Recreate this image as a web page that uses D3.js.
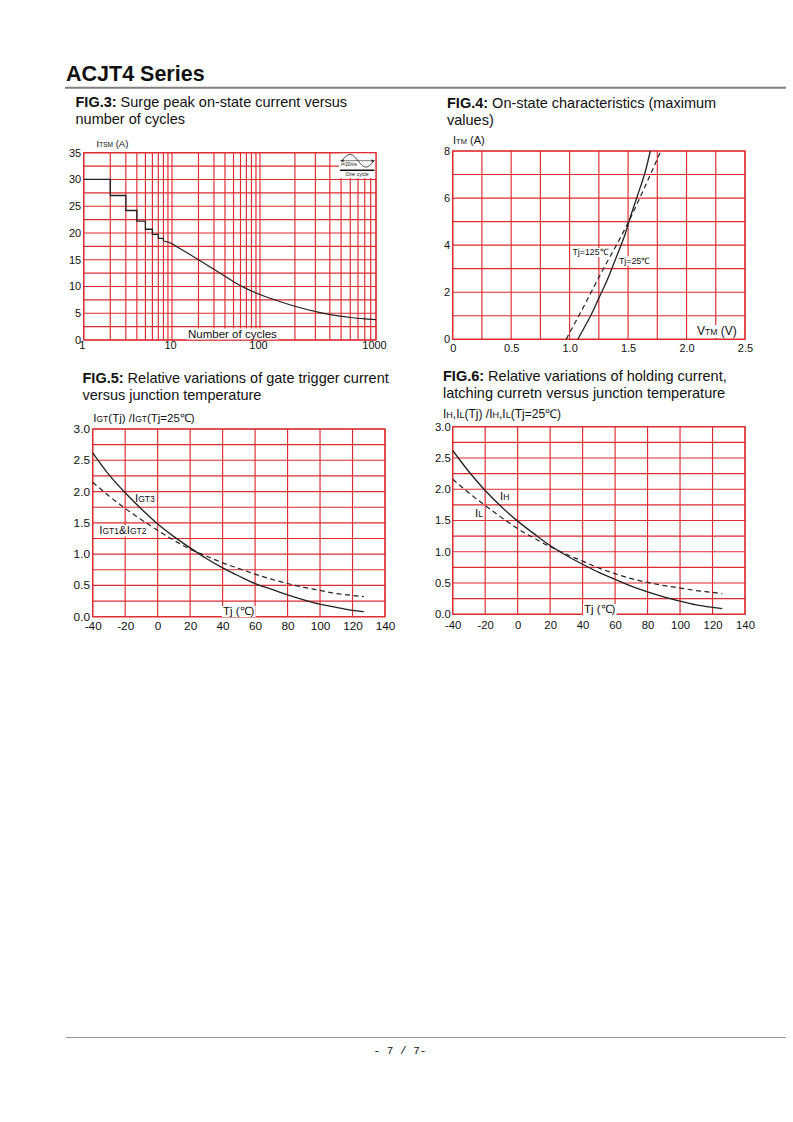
<!DOCTYPE html>
<html><head><meta charset="utf-8">
<script src="https://cdn.jsdelivr.net/npm/d3@7"></script>
<style>
body{margin:0;background:#fff}
svg{display:block}
text{fill:#111}
</style>
</head><body>
<svg id="c" width="793" height="1122" font-family='"Liberation Sans", Arial, Helvetica, sans-serif'></svg>
<script>
// ---------- FIG.3 : surge peak current vs number of cycles ----------
const surgeStepCycles = [1, 2, 3, 4, 5, 6, 7, 8];
const surgeStepValues = [30, 27, 24.2, 22.2, 20.7, 19.75, 19.0, 18.5];
const surgeCurveCycles = [8, 10, 12, 20, 35, 50, 70, 100, 150, 200, 330, 470, 600, 800, 1000];
const surgeCurveValues = [18.5, 18.0, 17.2, 15.0, 12.5, 10.9, 9.6, 8.5, 7.15, 6.3, 5.1, 4.5, 4.2, 3.95, 3.8];
const surgeXTicks = [1, 10, 100, 1000];
const surgeYTicks = [0, 5, 10, 15, 20, 25, 30, 35];

// ---------- FIG.4 : on-state characteristics ----------
const vtm25 = [1.07, 1.12, 1.18, 1.25, 1.32, 1.40, 1.47, 1.52, 1.58, 1.64, 1.69];
const itm25 = [0, 0.45, 1.0, 1.75, 2.5, 3.5, 4.4, 5.2, 6.1, 7.0, 8.0];
const vtm125 = [0.97, 1.1, 1.2, 1.3, 1.4, 1.5, 1.6, 1.7, 1.78];
const itm125 = [0, 1.2, 2.15, 3.1, 4.0, 4.95, 6.0, 7.1, 8.0];
const onXTicks = [0, 0.5, 1.0, 1.5, 2.0, 2.5];
const onYTicks = [0, 2, 4, 6, 8];

// ---------- FIG.5 : gate trigger current vs Tj ----------
const tempsFig5 = [-40, -30, -20, -10, 0, 10, 20, 30, 40, 50, 60, 70, 80, 90, 100, 110, 120, 127];
const igt3 = [2.62, 2.27, 1.98, 1.72, 1.48, 1.28, 1.10, 0.93, 0.78, 0.65, 0.53, 0.44, 0.35, 0.27, 0.20, 0.15, 0.10, 0.08];
const igt12 = [2.15, 1.93, 1.73, 1.55, 1.38, 1.22, 1.08, 0.97, 0.86, 0.77, 0.68, 0.60, 0.53, 0.47, 0.42, 0.37, 0.34, 0.32];

// ---------- FIG.6 : holding / latching current vs Tj ----------
const tempsFig6 = [-40, -30, -20, -10, 0, 10, 20, 30, 40, 50, 60, 70, 80, 90, 100, 110, 120, 126];
const ihRel = [2.62, 2.28, 1.98, 1.72, 1.49, 1.29, 1.10, 0.94, 0.80, 0.67, 0.56, 0.45, 0.36, 0.28, 0.21, 0.15, 0.11, 0.09];
const ilRel = [2.16, 1.94, 1.74, 1.55, 1.37, 1.22, 1.08, 0.96, 0.85, 0.74, 0.65, 0.57, 0.51, 0.46, 0.42, 0.38, 0.35, 0.33];

const tempTicks = [-40, -20, 0, 20, 40, 60, 80, 100, 120, 140];
const relTicks = [0, 0.5, 1.0, 1.5, 2.0, 2.5, 3.0];

// ---------------------------------------------------------------
const svg = d3.select("#c");
const GRID = "#de2a30";
const hyphenInt = d => String(d);            // "-40" with a plain hyphen, like the datasheet

function rich(g, x, y, parts, opts = {}) {
  const t = g.append("text").attr("x", x).attr("y", y)
    .attr("text-anchor", opts.anchor || "start");
  parts.forEach(([s, fs]) => t.append("tspan").attr("font-size", fs).text(s));
  if (opts.bg) {
    const b = t.node().getBBox();
    g.insert("rect", () => t.node())
      .attr("x", b.x - 1).attr("y", b.y + 1).attr("width", b.width + 2).attr("height", b.height - 1)
      .attr("fill", "#fff");
  }
  return t;
}

function frame(x, y, xGrid, yGrid, o) {
  const g = svg.append("g");
  const [x0, x1] = [x.range()[0], x.range()[x.range().length - 1]];
  const [y0, y1] = y.range();
  g.append("g").selectAll("line").data(xGrid).join("line")
    .attr("x1", d => x(d)).attr("x2", d => x(d)).attr("y1", y1).attr("y2", y0)
    .attr("stroke", GRID).attr("stroke-width", 1.15);
  g.append("g").selectAll("line").data(yGrid).join("line")
    .attr("x1", x0).attr("x2", x1).attr("y1", d => y(d)).attr("y2", d => y(d))
    .attr("stroke", GRID).attr("stroke-width", 1.15);
  g.append("rect").attr("x", x0).attr("y", y1).attr("width", x1 - x0).attr("height", y0 - y1)
    .attr("fill", "none").attr("stroke", GRID).attr("stroke-width", 1.25);

  const ax = g.append("g").attr("transform", `translate(${o.xShift || 0},${y0})`)
    .call(d3.axisBottom(x).tickValues(o.xTicks).tickSize(0).tickPadding(o.xPad).tickFormat(o.xFmt));
  ax.select(".domain").remove();
  ax.attr("font-size", o.fs).attr("font-family", null);
  ax.selectAll("text").attr("fill", "#111");
  const ay = g.append("g").attr("transform", `translate(${x0},0)`)
    .call(d3.axisLeft(y).tickValues(o.yTicks).tickSize(0).tickPadding(o.yPad).tickFormat(o.yFmt));
  ay.select(".domain").remove();
  ay.attr("font-size", o.fs).attr("font-family", null);
  ay.selectAll("text").attr("fill", "#111").attr("dy", "0.3em");
  return g;
}

function title(x, y, bold, rest, line2) {
  const t = svg.append("text").attr("x", x).attr("y", y).attr("font-size", 14.5);
  t.append("tspan").attr("font-weight", "bold").text(bold);
  t.append("tspan").text(rest);
  svg.append("text").attr("x", x).attr("y", y + 17.3).attr("font-size", 14.5).text(line2);
}

// ---------- header / footer ----------
svg.append("text").attr("x", 66).attr("y", 80.5).attr("font-size", 21.5).attr("font-weight", "bold").text("ACJT4 Series");
svg.append("line").attr("x1", 65).attr("x2", 786).attr("y1", 87.7).attr("y2", 87.7).attr("stroke", "#808080").attr("stroke-width", 2);
svg.append("line").attr("x1", 66).attr("x2", 786).attr("y1", 1037.5).attr("y2", 1037.5).attr("stroke", "#999").attr("stroke-width", 1);
svg.append("text").attr("x", 400).attr("y", 1054).attr("text-anchor", "middle").attr("font-size", 11)
  .attr("font-family", '"Liberation Mono", "DejaVu Sans Mono", monospace').attr("fill", "#333").text("- 7 / 7-");

// ---------- FIG.3 ----------
title(75.5, 107, "FIG.3:", " Surge peak on-state current versus", "number of cycles");
{
  const x = d3.scaleLog().domain([1, 10, 100, 1000]).range([83.7, 172, 260, 376]);
  const y = d3.scaleLinear().domain([0, 35]).range([340, 152.7]);
  const xGrid = x.ticks();
  const yGrid = d3.range(0, 35.01, 2.5);
  const g = frame(x, y, xGrid, yGrid, {
    xTicks: surgeXTicks, yTicks: surgeYTicks, xFmt: d3.format("d"), yFmt: d3.format("d"),
    fs: 11, xPad: 1.5, yPad: 2.5, xShift: -2
  });
  const pts = surgeStepCycles.map((c, i) => [c, surgeStepValues[i]]);
  g.append("path").attr("d", d3.line().x(d => x(d[0])).y(d => y(d[1])).curve(d3.curveStepAfter)(pts))
    .attr("fill", "none").attr("stroke", "#222").attr("stroke-width", 1.3);
  const cpts = surgeCurveCycles.map((c, i) => [c, surgeCurveValues[i]]);
  g.append("path").attr("d", d3.line().x(d => x(d[0])).y(d => y(d[1])).curve(d3.curveMonotoneX)(cpts))
    .attr("fill", "none").attr("stroke", "#222").attr("stroke-width", 1.2);
  rich(g, 188, 337.5, [["Number of cycles", 11.5]], { bg: true });
  rich(g, 96.5, 146.5, [["I", 9.5], ["TSM", 6.6], [" (A)", 9.5]]);
  // one-cycle inset
  const rx = x(1000), ty = y(35);
  const ig = g.append("g");
  ig.append("rect").attr("x", rx - 37).attr("y", ty + 0.8).attr("width", 36.2).attr("height", 24.5).attr("fill", "#fff");
  const sx = d3.scaleLinear().domain([0, 2 * Math.PI]).range([rx - 34, rx - 2]);
  const sine = d3.range(0, 2 * Math.PI + 0.01, Math.PI / 24).map(a => [sx(a), ty + 8 - 6.3 * Math.sin(a)]);
  ig.append("path").attr("d", d3.line()(sine)).attr("fill", "none").attr("stroke", "#222").attr("stroke-width", 0.9);
  ig.append("line").attr("x1", rx - 35.5).attr("x2", rx - 1.5).attr("y1", ty + 8).attr("y2", ty + 8).attr("stroke", "#222").attr("stroke-width", 0.6);
  ig.append("path").attr("d", `M${rx - 35.5},${ty + 8}l3,-1.5v3z M${rx - 1.5},${ty + 8}l-3,-1.5v3z`).attr("fill", "#222");
  ig.append("text").attr("x", rx - 35).attr("y", ty + 13).attr("font-size", 4.8).text("t=20ms");
  ig.append("line").attr("x1", rx - 36).attr("x2", rx - 1.5).attr("y1", ty + 17.5).attr("y2", ty + 17.5).attr("stroke", "#111").attr("stroke-width", 1.5);
  ig.append("text").attr("x", rx - 19).attr("y", ty + 23.5).attr("font-size", 5.2).attr("text-anchor", "middle").text("One  cycle");
}

// ---------- FIG.4 ----------
title(447, 107.5, "FIG.4:", " On-state characteristics (maximum", "values)");
{
  const x = d3.scaleLinear().domain([0, 2.5]).range([452.7, 745]);
  const y = d3.scaleLinear().domain([0, 8]).range([339.3, 151]);
  const g = frame(x, y, d3.range(0, 2.501, 0.25), d3.range(0, 8.01, 1), {
    xTicks: onXTicks, yTicks: onYTicks, xFmt: d => d === 0 ? "0" : d3.format(".1f")(d), yFmt: d3.format("d"),
    fs: 11, xPad: 4.7, yPad: 2.7
  });
  rich(g, 453, 144, [["I", 11], ["TM", 7.5], [" (A)", 11]]);
  rich(g, 697, 335, [["V", 12], ["TM", 8.5], [" (V)", 12]], { bg: true });
  rich(g, 572.5, 255, [["Tj=125℃", 8.8]], { bg: true });
  rich(g, 619, 263.5, [["Tj=25℃", 8.8]], { bg: true });
  const line = d3.line().x(d => x(d[0])).y(d => y(d[1])).curve(d3.curveMonotoneY);
  g.append("path").attr("d", line(vtm125.map((v, i) => [v, itm125[i]])))
    .attr("fill", "none").attr("stroke", "#222").attr("stroke-width", 1.2).attr("stroke-dasharray", "5,3.5");
  g.append("path").attr("d", line(vtm25.map((v, i) => [v, itm25[i]])))
    .attr("fill", "none").attr("stroke", "#222").attr("stroke-width", 1.3);
}

// ---------- FIG.5 ----------
title(82.5, 382.5, "FIG.5:", " Relative variations of gate trigger current", "versus junction temperature");
{
  const x = d3.scaleLinear().domain([-40, 140]).range([92.7, 385]);
  const y = d3.scaleLinear().domain([0, 3]).range([616.7, 429]);
  const g = frame(x, y, d3.range(-40, 140.1, 20), d3.range(0, 3.001, 0.25), {
    xTicks: tempTicks, yTicks: relTicks, xFmt: hyphenInt, yFmt: d3.format(".1f"),
    fs: 11.8, xPad: 5.3, yPad: 2.7
  });
  rich(g, 93.3, 421.7, [["I", 11.5], ["GT", 8.5], ["(Tj) /I", 11.5], ["GT", 8.5], ["(Tj=25℃)", 11.5]]);
  rich(g, 135, 501.7, [["I", 11.5], ["GT3", 8.5]], { bg: true });
  rich(g, 99.3, 534.3, [["I", 11.5], ["GT1", 8.5], ["&I", 11.5], ["GT2", 8.5]], { bg: true });
  rich(g, 223, 615, [["Tj (℃)", 11.5]], { bg: true });
  const line = d3.line().x(d => x(d[0])).y(d => y(d[1])).curve(d3.curveMonotoneX);
  g.append("path").attr("d", line(tempsFig5.map((t, i) => [t, igt12[i]])))
    .attr("fill", "none").attr("stroke", "#222").attr("stroke-width", 1.2).attr("stroke-dasharray", "5,3.5");
  g.append("path").attr("d", line(tempsFig5.map((t, i) => [t, igt3[i]])))
    .attr("fill", "none").attr("stroke", "#222").attr("stroke-width", 1.3);
}

// ---------- FIG.6 ----------
title(443, 380.7, "FIG.6:", " Relative variations of holding current,", "latching curretn versus junction temperature");
{
  const x = d3.scaleLinear().domain([-40, 140]).range([452.7, 745]);
  const y = d3.scaleLinear().domain([0, 3]).range([614.3, 426.7]);
  const g = frame(x, y, d3.range(-40, 140.1, 20), d3.range(0, 3.001, 0.25), {
    xTicks: tempTicks, yTicks: relTicks, xFmt: hyphenInt, yFmt: d3.format(".1f"),
    fs: 11.3, xPad: 6.5, yPad: 2
  });
  rich(g, 443, 418.3, [["I", 12], ["H", 9], [",I", 12], ["L", 9], ["(Tj) /I", 12], ["H", 9], [",I", 12], ["L", 9], ["(Tj=25℃)", 12]]);
  rich(g, 500, 500, [["I", 11.5], ["H", 8.5]], { bg: true });
  rich(g, 475, 516.7, [["I", 11.5], ["L", 8.5]], { bg: true });
  rich(g, 584, 613, [["Tj (℃)", 11.5]], { bg: true });
  const line = d3.line().x(d => x(d[0])).y(d => y(d[1])).curve(d3.curveMonotoneX);
  g.append("path").attr("d", line(tempsFig6.map((t, i) => [t, ilRel[i]])))
    .attr("fill", "none").attr("stroke", "#222").attr("stroke-width", 1.2).attr("stroke-dasharray", "5,3.5");
  g.append("path").attr("d", line(tempsFig6.map((t, i) => [t, ihRel[i]])))
    .attr("fill", "none").attr("stroke", "#222").attr("stroke-width", 1.3);
}
</script>
</body></html>
